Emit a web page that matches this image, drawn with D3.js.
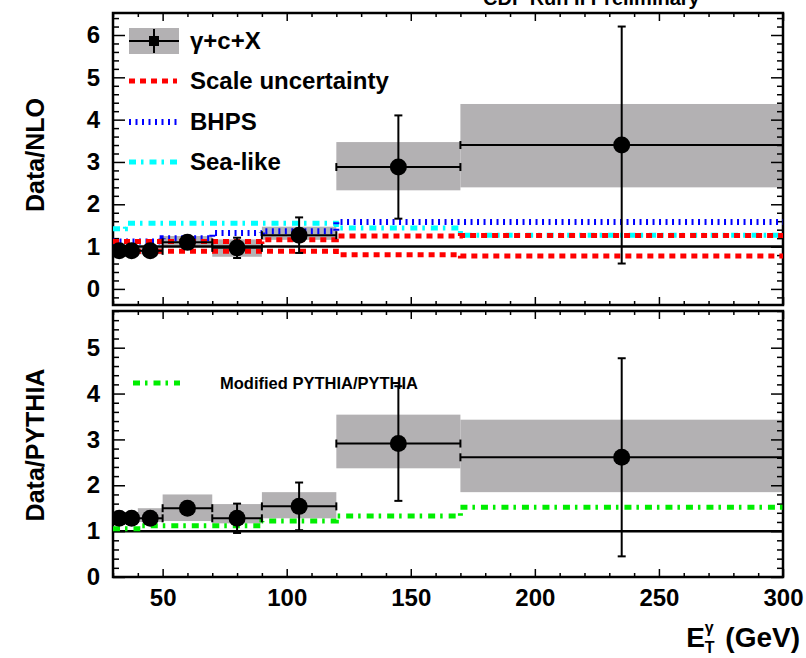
<!DOCTYPE html>
<html>
<head>
<meta charset="utf-8">
<script src="https://cdn.jsdelivr.net/npm/d3@7"></script>
<style>
  body { margin: 0; background: #fff; }
  svg { font-family: "Liberation Sans", Arial, sans-serif; font-weight: bold; }
</style>
</head>
<body>
<div id="chart"></div>
<script>
// ---- data ----
var binLo  = [30, 35, 40, 50, 70, 90, 120, 170];
var binHi  = [35, 40, 50, 70, 90, 120, 170, 300];
var binMid = [32.5, 37.5, 45, 60, 80, 105, 145, 235];

// upper panel: Data/NLO
var nloVal   = [0.90, 0.90, 0.90, 1.10, 0.97, 1.27, 2.88, 3.40];
var nloErr   = [0.10, 0.10, 0.10, 0.12, 0.24, 0.42, 1.22, 2.80];
var nloSysLo = [0.82, 0.82, 0.82, 1.02, 0.76, 1.16, 2.33, 2.40];
var nloSysHi = [0.98, 0.98, 0.98, 1.25, 1.17, 1.47, 3.47, 4.37];
var scaleHi  = [1.12, 1.12, 1.12, 1.12, 1.12, 1.16, 1.25, 1.26];
var scaleLo  = [0.89, 0.89, 0.89, 0.89, 0.89, 0.89, 0.81, 0.78];
var bhps     = [1.12, 1.12, 1.12, 1.20, 1.32, 1.36, 1.58, 1.58];
var seaLike  = [1.42, 1.55, 1.55, 1.55, 1.55, 1.55, 1.44, 1.27];

// lower panel: Data/PYTHIA
var pyVal    = [1.28, 1.28, 1.28, 1.50, 1.28, 1.54, 2.91, 2.61];
var pyErr    = [0.08, 0.08, 0.08, 0.10, 0.32, 0.52, 1.25, 2.16];
var pySysLo  = [1.20, 1.20, 1.20, 1.22, 1.17, 1.28, 2.37, 1.85];
var pySysHi  = [1.36, 1.36, 1.50, 1.80, 1.59, 1.85, 3.54, 3.43];
var modPythia = [1.05, 1.05, 1.12, 1.12, 1.12, 1.22, 1.33, 1.52];

var xTicks   = [50, 100, 150, 200, 250, 300];
var yTicksNLO = [0, 1, 2, 3, 4, 5, 6];
var yTicksPY  = [0, 1, 2, 3, 4, 5];

// ---- layout ----
var width = 806, height = 658;
var left = 113, right = 783;

var svg = d3.select("#chart").append("svg")
  .attr("width", width)
  .attr("height", height);

var x = d3.scaleLinear().domain([30, 300]).range([left, right]);

var yTop = d3.scaleLinear().domain([-0.38, 6.52]).range([305, 13]);
var yBot = d3.scaleLinear().domain([0, 5.8]).range([577, 311]);

var red = "#ff0000", blue = "#0000ff", cyan = "#00ffff", green = "#00ee00";

function stepPoints(vals) {
  var pts = binLo.map(function(lo, i) { return [lo, vals[i]]; });
  pts.push([binHi[binHi.length - 1], vals[vals.length - 1]]);
  return pts;
}

function minorTicks(lo, hi, step) {
  return d3.range(lo, hi + 1e-9, step).filter(function(v) {
    return Math.abs(v / (step * 5) - Math.round(v / (step * 5))) > 1e-6;
  });
}

// draws one panel frame, ticks and labels
function drawFrame(y, yTicks, clipId, showXLabels) {
  var r = y.range();
  var g = svg.append("g");

  svg.append("clipPath").attr("id", clipId)
    .append("rect")
    .attr("x", left).attr("y", r[1])
    .attr("width", right - left).attr("height", r[0] - r[1]);

  // y axis major/minor, left and right
  var ymin = y.domain()[0], ymax = y.domain()[1];
  var yMinor = minorTicks(Math.ceil(ymin / 0.2) * 0.2, ymax, 0.2);

  g.append("g")
    .attr("transform", "translate(" + left + ",0)")
    .call(d3.axisLeft(y).tickValues(yTicks).tickSize(-12).tickPadding(13).tickFormat(d3.format("d")));
  g.append("g")
    .attr("transform", "translate(" + left + ",0)")
    .call(d3.axisLeft(y).tickValues(yMinor).tickSize(-6).tickFormat(""));
  g.append("g")
    .attr("transform", "translate(" + right + ",0)")
    .call(d3.axisRight(y).tickValues(yTicks).tickSize(-12).tickFormat(""));
  g.append("g")
    .attr("transform", "translate(" + right + ",0)")
    .call(d3.axisRight(y).tickValues(yMinor).tickSize(-6).tickFormat(""));

  // x axis bottom and top
  var xMinor = minorTicks(30, 300, 10);
  g.append("g")
    .attr("transform", "translate(0," + r[0] + ")")
    .call(d3.axisBottom(x).tickValues(xTicks).tickSize(-8).tickPadding(12)
      .tickFormat(showXLabels ? d3.format("d") : ""));
  g.append("g")
    .attr("transform", "translate(0," + r[0] + ")")
    .call(d3.axisBottom(x).tickValues(xMinor).tickSize(-4).tickFormat(""));
  g.append("g")
    .attr("transform", "translate(0," + r[1] + ")")
    .call(d3.axisTop(x).tickValues(xTicks).tickSize(-8).tickFormat(""));
  g.append("g")
    .attr("transform", "translate(0," + r[1] + ")")
    .call(d3.axisTop(x).tickValues(xMinor).tickSize(-4).tickFormat(""));

  g.selectAll(".domain").remove();
  g.selectAll(".tick line").attr("stroke", "#000").attr("stroke-width", 1.5);
  g.selectAll(".tick text")
    .attr("fill", "#000")
    .style("font-size", "24px")
    .style("font-family", "'Liberation Sans', Arial, sans-serif")
    .style("font-weight", "bold");

  g.append("rect")
    .attr("x", left).attr("y", r[1])
    .attr("width", right - left).attr("height", r[0] - r[1])
    .attr("fill", "none").attr("stroke", "#000").attr("stroke-width", 2.5);
  return g;
}

function drawBoxes(y, sysLo, sysHi, clipId) {
  svg.append("g").attr("clip-path", "url(#" + clipId + ")")
    .selectAll("rect").data(binLo).enter().append("rect")
    .attr("x", function(d, i) { return x(binLo[i]); })
    .attr("width", function(d, i) { return x(binHi[i]) - x(binLo[i]); })
    .attr("y", function(d, i) { return y(sysHi[i]); })
    .attr("height", function(d, i) { return y(sysLo[i]) - y(sysHi[i]); })
    .attr("fill", "#b3b1b3");
}

function drawOne(y, clipId) {
  svg.append("line")
    .attr("clip-path", "url(#" + clipId + ")")
    .attr("x1", left).attr("x2", right)
    .attr("y1", y(1)).attr("y2", y(1))
    .attr("stroke", "#000").attr("stroke-width", 2.5);
}

function drawStep(y, vals, color, dash, w, clipId) {
  var line = d3.line()
    .x(function(d) { return x(d[0]); })
    .y(function(d) { return y(d[1]); })
    .curve(d3.curveStepAfter);
  svg.append("path")
    .attr("clip-path", "url(#" + clipId + ")")
    .attr("d", line(stepPoints(vals)))
    .attr("fill", "none")
    .attr("stroke", color)
    .attr("stroke-width", w)
    .attr("stroke-dasharray", dash);
}

function drawPoints(y, vals, errs, clipId) {
  var g = svg.append("g").attr("clip-path", "url(#" + clipId + ")")
    .attr("stroke", "#000").attr("stroke-width", 2);
  var cap = 4;
  vals.forEach(function(v, i) {
    var cx = x(binMid[i]), cy = y(v);
    var x0 = x(binLo[i]), x1 = x(binHi[i]);
    var yHi = y(v + errs[i]), yLo = y(v - errs[i]);
    g.append("line").attr("x1", x0).attr("x2", x1).attr("y1", cy).attr("y2", cy);
    g.append("line").attr("x1", x0).attr("x2", x0).attr("y1", cy - cap).attr("y2", cy + cap);
    g.append("line").attr("x1", x1).attr("x2", x1).attr("y1", cy - cap).attr("y2", cy + cap);
    g.append("line").attr("x1", cx).attr("x2", cx).attr("y1", yHi).attr("y2", yLo);
    g.append("line").attr("x1", cx - cap).attr("x2", cx + cap).attr("y1", yHi).attr("y2", yHi);
    g.append("line").attr("x1", cx - cap).attr("x2", cx + cap).attr("y1", yLo).attr("y2", yLo);
    g.append("circle").attr("cx", cx).attr("cy", cy).attr("r", 8.5)
      .attr("fill", "#000").attr("stroke", "none");
  });
}

var redDash = "6,5", blueDash = "2,4.5", dashDot = "7,5,2.5,6";

// ---- upper panel ----
drawBoxes(yTop, nloSysLo, nloSysHi, "clipTop");
drawFrame(yTop, yTicksNLO, "clipTop", false);
drawOne(yTop, "clipTop");
drawStep(yTop, seaLike, cyan, dashDot, 5, "clipTop");
drawStep(yTop, bhps, blue, blueDash, 6, "clipTop");
drawStep(yTop, scaleHi, red, redDash, 5, "clipTop");
drawStep(yTop, scaleLo, red, redDash, 5, "clipTop");
drawPoints(yTop, nloVal, nloErr, "clipTop");

// ---- lower panel ----
drawBoxes(yBot, pySysLo, pySysHi, "clipBot");
drawFrame(yBot, yTicksPY, "clipBot", true);
drawOne(yBot, "clipBot");
drawStep(yBot, modPythia, green, dashDot, 5, "clipBot");
drawPoints(yBot, pyVal, pyErr, "clipBot");

// ---- legend (upper panel) ----
var leg = svg.append("g");
leg.append("rect").attr("x", 129).attr("y", 28).attr("width", 50).attr("height", 26).attr("fill", "#b3b1b3");
leg.append("line").attr("x1", 129).attr("x2", 179).attr("y1", 41).attr("y2", 41).attr("stroke", "#000").attr("stroke-width", 2);
leg.append("line").attr("x1", 154).attr("x2", 154).attr("y1", 29).attr("y2", 53).attr("stroke", "#000").attr("stroke-width", 2);
leg.append("rect").attr("x", 149).attr("y", 36).attr("width", 10).attr("height", 10).attr("fill", "#000");

var legItems = [
  { label: "Scale uncertainty", color: red, dash: redDash, w: 5, y: 81 },
  { label: "BHPS", color: blue, dash: blueDash, w: 6, y: 122 },
  { label: "Sea-like", color: cyan, dash: dashDot, w: 5, y: 162 }
];
legItems.forEach(function(d) {
  leg.append("line").attr("x1", 129).attr("x2", 177).attr("y1", d.y).attr("y2", d.y)
    .attr("stroke", d.color).attr("stroke-width", d.w).attr("stroke-dasharray", d.dash);
  leg.append("text").attr("x", 190).attr("y", d.y + 8).style("font-size", "24px").text(d.label);
});
leg.append("text").attr("x", 190).attr("y", 49).style("font-size", "24px")
  .text("\u03b3+c+X");

// lower panel legend
svg.append("line").attr("x1", 133).attr("x2", 180).attr("y1", 383).attr("y2", 383)
  .attr("stroke", green).attr("stroke-width", 5).attr("stroke-dasharray", dashDot);
svg.append("text").attr("x", 220).attr("y", 389).style("font-size", "16.5px")
  .text("Modified PYTHIA/PYTHIA");

// ---- titles ----
svg.append("text").attr("x", 483).attr("y", 5).style("font-size", "20px")
  .text("CDF Run II Preliminary");

svg.append("text")
  .attr("transform", "translate(44,155)rotate(-90)")
  .attr("text-anchor", "middle")
  .style("font-size", "25px")
  .text("Data/NLO");

svg.append("text")
  .attr("transform", "translate(44,445)rotate(-90)")
  .attr("text-anchor", "middle")
  .style("font-size", "25px")
  .text("Data/PYTHIA");

var xt = svg.append("text").attr("x", 800).attr("y", 647)
  .attr("text-anchor", "end").style("font-size", "28px");
xt.append("tspan").text("E");
xt.append("tspan").attr("dy", 6).style("font-size", "16px").text("T");
xt.append("tspan").attr("dx", -10).attr("dy", -20).style("font-size", "16px").text("\u03b3");
xt.append("tspan").attr("dx", 4).attr("dy", 14).text(" (GeV)");
</script>
</body>
</html>
